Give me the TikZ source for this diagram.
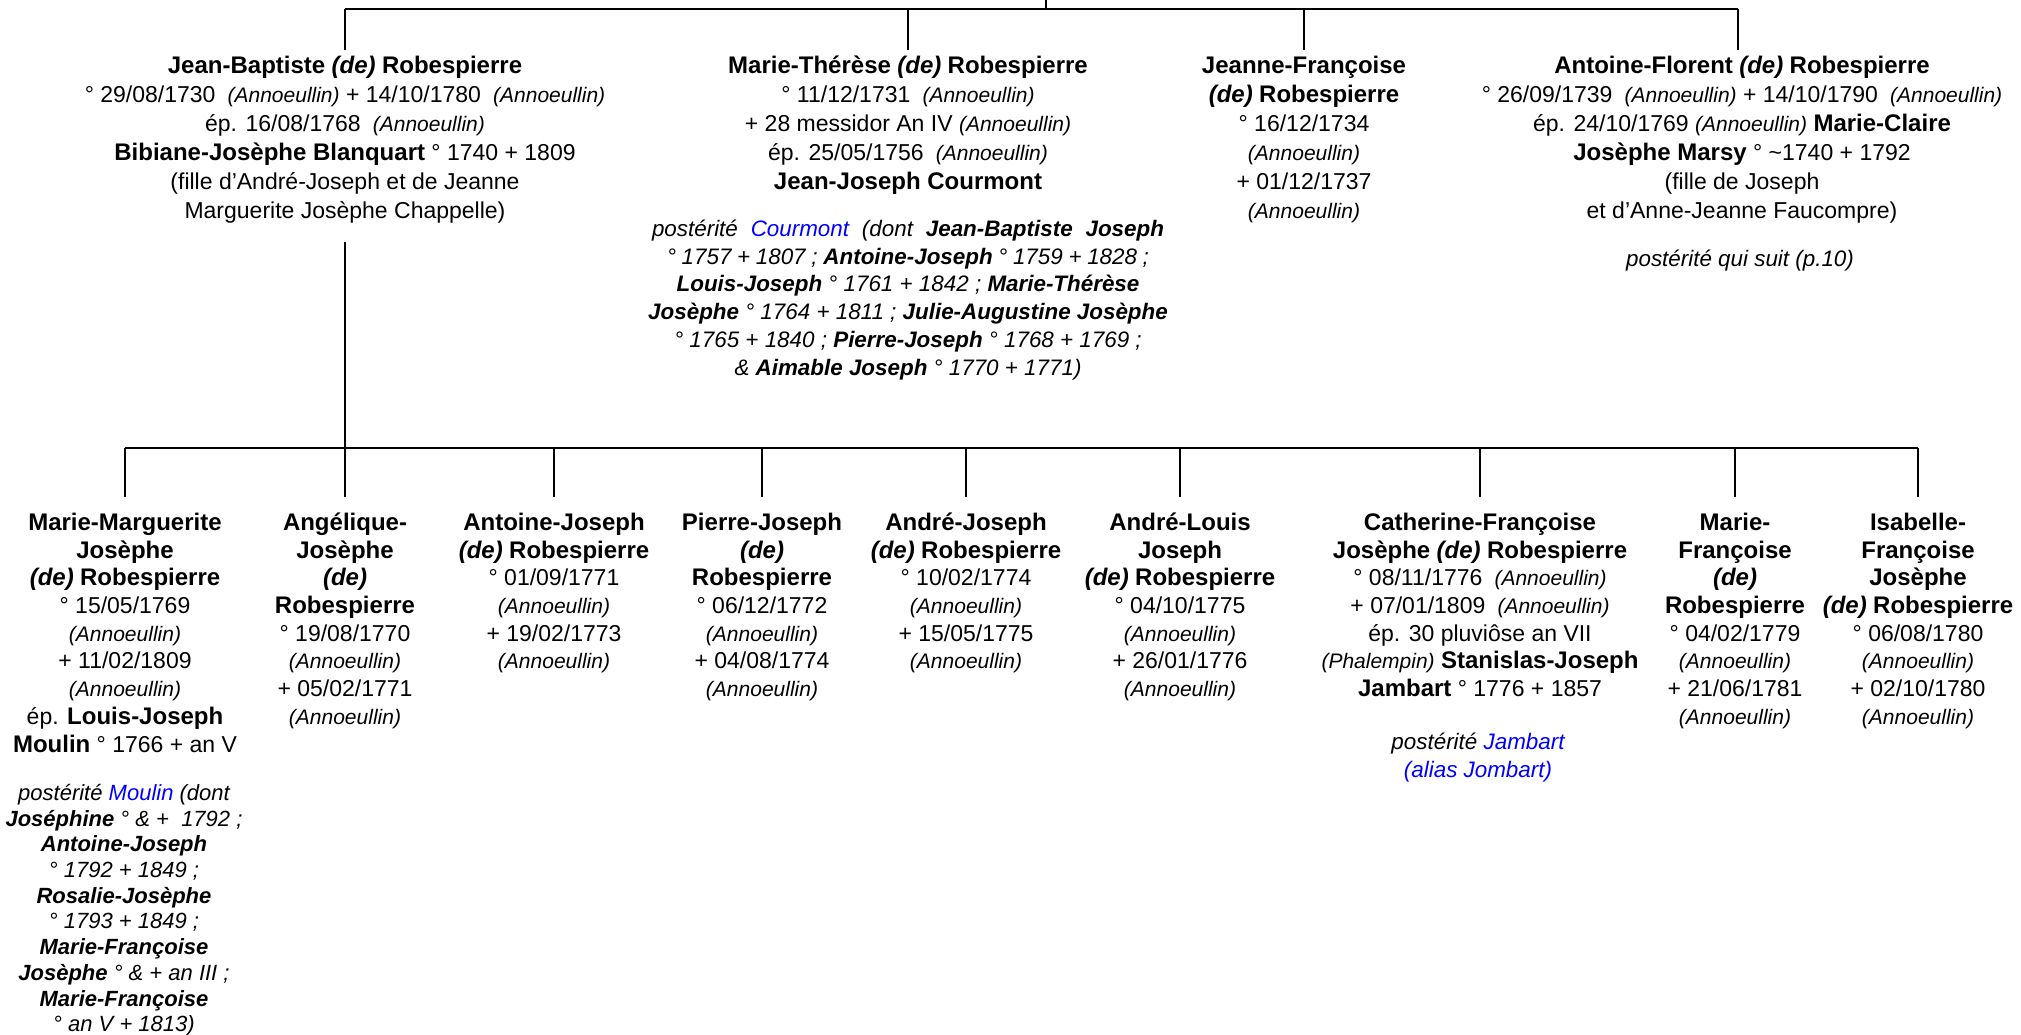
\documentclass[tikz,border=0pt]{standalone}
\usepackage{fontspec}
\setmainfont{Liberation Sans}
\usepackage{xcolor}
\definecolor{lnk}{RGB}{0,0,255}
\newcommand\topfont{\fontsize{11.5}{14.5}\selectfont}
\newcommand\botfont{\fontsize{11.5}{13.85}\selectfont}
\newcommand\postfont{\fontsize{11.2}{13.9}\selectfont\itshape}
\newcommand\moulinfont{\fontsize{11}{12.85}\selectfont\itshape}
\newcommand\nm[1]{{\fontsize{12}{14}\selectfont\bfseries #1}}
\newcommand\de{{\fontsize{12}{14}\selectfont\bfseries\itshape (de)}}
\newcommand\pl[1]{{\fontsize{10.5}{12}\selectfont\itshape (#1)}}
\newcommand\pp[1]{\hskip0.25em\pl{#1}}
\tikzset{
  persontop/.style={anchor=north, align=center, inner xsep=0pt, inner ysep=1.35pt, font=\topfont},
  personbot/.style={anchor=north, align=center, inner xsep=0pt, inner ysep=6.8pt, font=\botfont},
  posttext/.style={anchor=north, align=center, inner sep=0pt, font=\postfont},
  link/.style={line width=1.1pt, black}
}
\begin{document}
\begin{tikzpicture}[x=0.5pt,y=-0.5pt]
\useasboundingbox (0,0) rectangle (2021,1034);
\fill[white] (0,0) rectangle (2021,1034);
% ---------- generation 1 ----------
\node[persontop] (jb) at (345,50) {\strut\nm{Jean-Baptiste} \de{} \nm{Robespierre}\\
° 29/08/1730 \pp{Annoeullin} + 14/10/1780 \pp{Annoeullin}\\
ép. 16/08/1768 \pp{Annoeullin}\\
\nm{Bibiane-Josèphe Blanquart} ° 1740 + 1809\\
(fille d’André-Joseph et de Jeanne\\
Marguerite Josèphe Chappelle)\strut};
\node[persontop] (mt) at (908,50) {\strut\nm{Marie-Thérèse} \de{} \nm{Robespierre}\\
° 11/12/1731 \pp{Annoeullin}\\
+ 28 messidor An IV \pl{Annoeullin}\\
ép. 25/05/1756 \pp{Annoeullin}\\
\nm{Jean-Joseph Courmont}\strut};
\node[posttext] (mtp) at (908,216.5) {\strut\hbox to 256pt{postérité \textcolor{lnk}{Courmont} (dont \textbf{Jean-Baptiste Joseph}}\\
\hbox to 241pt{° 1757 + 1807 ; \textbf{Antoine-Joseph} ° 1759 + 1828 ;}\\
\textbf{Louis-Joseph} ° 1761 + 1842 ; \textbf{Marie-Thérèse}\\
\textbf{Josèphe} ° 1764 + 1811 ; \textbf{Julie-Augustine Josèphe}\\
° 1765 + 1840 ; \textbf{Pierre-Joseph} ° 1768 + 1769 ;\\
\& \textbf{Aimable Joseph} ° 1770 + 1771)\strut};
\node[persontop] (jf) at (1304,50) {\strut\nm{Jeanne-Françoise}\\
\de{} \nm{Robespierre}\\
° 16/12/1734\\
\pl{Annoeullin}\\
+ 01/12/1737\\
\pl{Annoeullin}\strut};
\node[persontop] (af) at (1742,50) {\strut\nm{Antoine-Florent} \de{} \nm{Robespierre}\\
° 26/09/1739 \pp{Annoeullin} + 14/10/1790 \pp{Annoeullin}\\
ép. 24/10/1769 \pl{Annoeullin} \nm{Marie-Claire}\\
\nm{Josèphe Marsy} ° \textasciitilde1740 + 1792\\
(fille de Joseph\\
et d’Anne-Jeanne Faucompre)\strut};
\node[posttext] (afp) at (1740,246.5) {\strut postérité qui suit (p.10)\strut};
% ---------- generation 2 ----------
\node[personbot] (c1) at (125,497) {\strut\nm{Marie-Marguerite}\\
\nm{Josèphe}\\
\de{} \nm{Robespierre}\\
° 15/05/1769\\
\pl{Annoeullin}\\
+ 11/02/1809\\
\pl{Annoeullin}\\
ép. \nm{Louis-Joseph}\\
\nm{Moulin} ° 1766 + an V\strut};
\node[posttext, font=\moulinfont] (c1p) at (124,782) {\strut postérité \textcolor{lnk}{Moulin} (dont\\
\textbf{Joséphine} ° \& +~~1792 ;\\
\textbf{Antoine-Joseph}\\
° 1792 + 1849 ;\\
\textbf{Rosalie-Josèphe}\\
° 1793 + 1849 ;\\
\textbf{Marie-Françoise}\\
\textbf{Josèphe} ° \& + an III ;\\
\textbf{Marie-Françoise}\\
° an V + 1813)};
\node[personbot] (c2) at (345,497) {\strut\nm{Angélique-}\\
\nm{Josèphe}\\
\de\\
\nm{Robespierre}\\
° 19/08/1770\\
\pl{Annoeullin}\\
+ 05/02/1771\\
\pl{Annoeullin}\strut};
\node[personbot] (c3) at (554,497) {\strut\nm{Antoine-Joseph}\\
\de{} \nm{Robespierre}\\
° 01/09/1771\\
\pl{Annoeullin}\\
+ 19/02/1773\\
\pl{Annoeullin}\strut};
\node[personbot] (c4) at (762,497) {\strut\nm{Pierre-Joseph}\\
\de\\
\nm{Robespierre}\\
° 06/12/1772\\
\pl{Annoeullin}\\
+ 04/08/1774\\
\pl{Annoeullin}\strut};
\node[personbot] (c5) at (966,497) {\strut\nm{André-Joseph}\\
\de{} \nm{Robespierre}\\
° 10/02/1774\\
\pl{Annoeullin}\\
+ 15/05/1775\\
\pl{Annoeullin}\strut};
\node[personbot] (c6) at (1180,497) {\strut\nm{André-Louis}\\
\nm{Joseph}\\
\de{} \nm{Robespierre}\\
° 04/10/1775\\
\pl{Annoeullin}\\
+ 26/01/1776\\
\pl{Annoeullin}\strut};
\node[personbot] (c7) at (1480,497) {\strut\nm{Catherine-Françoise}\\
\nm{Josèphe} \de{} \nm{Robespierre}\\
° 08/11/1776 \pp{Annoeullin}\\
+ 07/01/1809 \pp{Annoeullin}\\
ép. 30 pluviôse an VII\\
\pl{Phalempin} \nm{Stanislas-Joseph}\\
\nm{Jambart} ° 1776 + 1857\strut};
\node[posttext, font=\fontsize{11.2}{14}\selectfont\itshape] (c7p) at (1478,729) {\strut postérité \textcolor{lnk}{Jambart}\\
\textcolor{lnk}{(alias Jombart)}\strut};
\node[personbot] (c8) at (1735,497) {\strut\nm{Marie-}\\
\nm{Françoise}\\
\de\\
\nm{Robespierre}\\
° 04/02/1779\\
\pl{Annoeullin}\\
+ 21/06/1781\\
\pl{Annoeullin}\strut};
\node[personbot] (c9) at (1918,497) {\strut\nm{Isabelle-}\\
\nm{Françoise}\\
\nm{Josèphe}\\
\de{} \nm{Robespierre}\\
° 06/08/1780\\
\pl{Annoeullin}\\
+ 02/10/1780\\
\pl{Annoeullin}\strut};
% ---------- connectors ----------
\coordinate (top0) at (1046,0);
\coordinate (tbus) at (1046,9);
\coordinate (jbdown) at (345,242);
\coordinate (bbus) at (345,448);
\draw[link] (top0) -- (tbus);
\draw[link] (jb.north |- tbus) -- (1738,9);
\foreach \n in {jb,mt,jf} \draw[link] (\n.north |- tbus) -- (\n.north);
\draw[link] (1738,9) -- (1738,9 |- af.north);
\draw[link] (jbdown) -- (bbus);
\draw[link] (c1.north |- bbus) -- (c9.north |- bbus);
\foreach \n in {c1,c2,c3,c4,c5,c6,c7,c8,c9} \draw[link] (\n.north |- bbus) -- (\n.north);
\end{tikzpicture}
\end{document}
